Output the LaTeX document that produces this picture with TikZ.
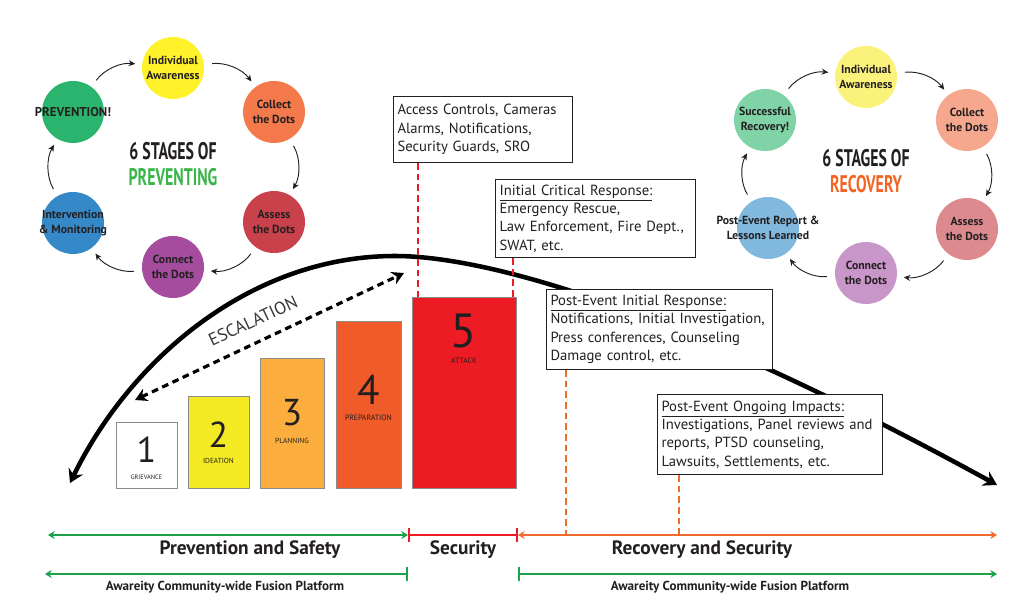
\documentclass[tikz,border=0pt]{standalone}
\usepackage{fontspec}
\setmainfont{PT Sans}
\usetikzlibrary{arrows.meta,calc}
\definecolor{txt}{HTML}{231F20}
\definecolor{lyel}{HTML}{FFF22B}
\definecolor{lora}{HTML}{F4794B}
\definecolor{lred}{HTML}{C8414B}
\definecolor{lpur}{HTML}{A54C9F}
\definecolor{lblu}{HTML}{3589C9}
\definecolor{lgrn}{HTML}{2BB46D}
\definecolor{ryel}{HTML}{FBF27C}
\definecolor{rora}{HTML}{F6A88E}
\definecolor{rred}{HTML}{DD8A8F}
\definecolor{rpur}{HTML}{C996C9}
\definecolor{rblu}{HTML}{80B8DE}
\definecolor{rgrn}{HTML}{7FD3A6}
\definecolor{headgrn}{HTML}{39B54A}
\definecolor{headora}{HTML}{F26522}
\definecolor{stwo}{HTML}{F4EA23}
\definecolor{sthree}{HTML}{FBAE3E}
\definecolor{sfour}{HTML}{F15A29}
\definecolor{sfive}{HTML}{ED1C24}
\definecolor{bargrn}{HTML}{1BA24B}
\definecolor{barred}{HTML}{ED1C24}
\definecolor{barora}{HTML}{F26B2C}
\definecolor{boxgray}{HTML}{8C8C8C}
\tikzset{
  circ/.style={circle, minimum size=46.5pt, inner sep=0pt},
  ctext/.style={inner sep=0pt, align=center,
    font=\fontsize{8.8}{11}\selectfont\bfseries, text=txt},
  cyc/.style={-{Stealth[length=5pt,width=4.5pt]}, line width=0.7pt, txt,
    shorten <=6pt, shorten >=5pt},
  heading/.style={align=center, font=\fontsize{18}{19}\selectfont\bfseries, text=txt},
  stagebox/.style={draw=boxgray, line width=0.8pt, anchor=south west, inner sep=0pt},
  bignum/.style={text=txt, inner sep=0pt},
  smalllab/.style={text=txt, inner sep=0pt, font=\fontsize{5.5}{6}\selectfont},
  infobox/.style={draw=txt, fill=white, line width=0.8pt, anchor=north west,
    align=left, inner xsep=3pt, inner ysep=2pt, text=txt,
    font=\fontsize{11}{13.8}\selectfont},
  bigarrow/.style={line width=3.4pt, {Stealth[length=10pt,width=12pt,inset=3.5pt]}-{Stealth[length=10pt,width=12pt,inset=3.5pt]}},
  escal/.style={line width=2.4pt, dash pattern=on 5pt off 3.5pt,
    {Stealth[length=9pt,width=10pt]}-{Stealth[length=9pt,width=10pt]}},
  reddash/.style={barred, line width=1.6pt, dash pattern=on 5pt off 3pt},
  oradash/.style={barora, line width=1.6pt, dash pattern=on 5pt off 3pt},
  barline/.style={line width=1.8pt},
  barlab/.style={font=\fontsize{14.5}{16}\selectfont\bfseries, text=txt},
  platlab/.style={font=\fontsize{9.8}{11}\selectfont\bfseries, text=txt}
}
\newcommand{\cond}[1]{\scalebox{0.66}[1]{#1}}
\newcommand{\boxline}[1]{\mbox{#1}}
\begin{document}
\begin{tikzpicture}[x=0.75pt,y=-0.75pt]
\useasboundingbox (0,0) rectangle (1024,616);

% ---------- left cycle ----------
\node[circ, fill=lyel] (pI) at (173,68) {};
\node[circ, fill=lora] (pC) at (274,112) {};
\node[circ, fill=lred] (pA) at (274,222) {};
\node[circ, fill=lpur] (pN) at (173,267) {};
\node[circ, fill=lblu] (pM) at (73,223) {};
\node[circ, fill=lgrn] (pP) at (73,112) {};
\node[ctext] (pIt) at (pI) {Individual\\Awareness};
\node[ctext] (pCt) at (pC) {Collect\\the Dots};
\node[ctext] (pAt) at (pA) {Assess\\the Dots};
\node[ctext] (pNt) at (pN) {Connect\\the Dots};
\node[ctext] (pMt) at (pM) {Intervention\\\& Monitoring};
\node[ctext, font=\fontsize{9.6}{11}\selectfont\bfseries] (pPt) at (pP) {PREVENTION!};
\node[heading] (pH) at (173,164) {\cond{6 STAGES OF}\\[1pt]\cond{\color{headgrn}PREVENTING}};
\draw[cyc] (pI) to[bend left=30] (pC);
\draw[cyc] (pC) to[bend left=30] (pA);
\draw[cyc] (pA) to[bend left=30] (pN);
\draw[cyc] (pN) to[bend left=30] (pM);
\draw[cyc] (pM) to[bend left=30] (pP);
\draw[cyc] (pP) to[bend left=30] (pI);

% ---------- right cycle ----------
\node[circ, fill=ryel] (rI) at (866,77) {};
\node[circ, fill=rora] (rC) at (967,120) {};
\node[circ, fill=rred] (rA) at (967,229) {};
\node[circ, fill=rpur] (rN) at (866,273) {};
\node[circ, fill=rblu] (rM) at (768,228) {};
\node[circ, fill=rgrn] (rP) at (765,120) {};
\node[ctext] (rIt) at (rI) {Individual\\Awareness};
\node[ctext] (rCt) at (rC) {Collect\\the Dots};
\node[ctext] (rAt) at (rA) {Assess\\the Dots};
\node[ctext] (rNt) at (rN) {Connect\\the Dots};
\node[ctext] (rMt) at (rM) {Post-Event Report \&\\Lessons Learned};
\node[ctext] (rPt) at (rP) {Successful\\Recovery!};
\node[heading] (rH) at (866,171) {\cond{6 STAGES OF}\\[1pt]\cond{\color{headora}RECOVERY}};
\draw[cyc] (rI) to[bend left=30] (rC);
\draw[cyc] (rC) to[bend left=30] (rA);
\draw[cyc] (rA) to[bend left=30] (rN);
\draw[cyc] (rN) to[bend left=30] (rM);
\draw[cyc] (rM) to[bend left=30] (rP);
\draw[cyc] (rP) to[bend left=30] (rI);

% ---------- big arc ----------
\coordinate (lTip) at (70,483);
\coordinate (peak) at (395,256);
\coordinate (rTip) at (997,485);
\draw[bigarrow] (lTip) .. controls (130,360) and (250,256) .. (peak)
  .. controls (470,256) and (645,292) .. (rTip);

% ---------- stage boxes ----------
\node[stagebox, fill=white, minimum width=45.75pt, minimum height=49.5pt] (s1) at (116,489) {};
\node[stagebox, fill=stwo, minimum width=45.75pt, minimum height=69pt] (s2) at (188,489) {};
\node[stagebox, fill=sthree, minimum width=48pt, minimum height=97.5pt] (s3) at (260,489) {};
\node[stagebox, fill=sfour, minimum width=48.75pt, minimum height=125.25pt] (s4) at (336,489) {};
\node[stagebox, fill=sfive, minimum width=78pt, minimum height=143.25pt] (s5) at (412,489) {};
\node[bignum, font=\fontsize{27}{27}\selectfont] (n1) at (146.5,450) {1};
\node[smalllab, font=\fontsize{4.8}{5}\selectfont] (l1) at (146.5,477) {GRIEVANCE};
\node[bignum, font=\fontsize{27}{27}\selectfont] (n2) at (218.5,435) {2};
\node[smalllab] (l2) at (218.5,461) {IDEATION};
\node[bignum, font=\fontsize{28}{28}\selectfont] (n3) at (292,413) {3};
\node[smalllab] (l3) at (292,441) {PLANNING};
\node[bignum, font=\fontsize{31}{31}\selectfont] (n4) at (368.5,390) {4};
\node[smalllab, font=\fontsize{5.8}{6}\selectfont] (l4) at (368.5,418) {PREPARATION};
\node[bignum, font=\fontsize{36}{36}\selectfont] (n5) at (464,331) {5};
\node[smalllab, font=\fontsize{5.8}{6}\selectfont] (l5) at (464,361) {ATTACK};

% ---------- escalation ----------
\coordinate (eA) at (135,400);
\coordinate (eB) at (404,273);
\draw[escal] (eA) -- (eB);
\node[rotate=25, font=\fontsize{13.2}{14}\selectfont, text=txt!90] (esc) at (253,321) {ESCALATION};

% ---------- info boxes ----------
\node[infobox, text width=128pt, minimum height=49.5pt] (acc) at (393,96)
  {\boxline{Access Controls, Cameras}\\\boxline{Alarms, Notifications,}\\\boxline{Security Guards, SRO}};
\node[infobox, text width=144pt, minimum height=58.5pt] (icr) at (495,179)
  {\boxline{\underline{Initial Critical Response:}}\\\boxline{Emergency Rescue,}\\\boxline{Law Enforcement, Fire Dept.,}\\\boxline{SWAT, etc.}};
\node[infobox, text width=163.25pt, minimum height=60pt] (pir) at (546,289)
  {\boxline{\underline{Post-Event Initial Response:}}\\\boxline{Notifications, Initial Investigation,}\\\boxline{Press conferences, Counseling}\\\boxline{Damage control, etc.}};
\node[infobox, text width=162.5pt, minimum height=60pt] (poi) at (657,394)
  {\boxline{\underline{Post-Event Ongoing Impacts:}}\\\boxline{Investigations, Panel reviews and}\\\boxline{reports, PTSD counseling,}\\\boxline{Lawsuits, Settlements, etc.}};

% ---------- bottom bars ----------
\coordinate (gL) at (48,535);
\coordinate (gR) at (408,535);
\coordinate (rR) at (518,535);
\coordinate (oR) at (997,535);
\coordinate (g2L) at (45,574);
\coordinate (g2R) at (408,574);
\coordinate (g3L) at (518,574);
\coordinate (g3R) at (997,574);

% dashed connectors
\draw[reddash] (acc.south -| 418,0) -- (s5.north -| 418,0);
\draw[reddash] (icr.south -| 513,0) -- (s5.north -| 513,0);
\draw[oradash] (pir.south -| 566,0) -- (gL -| 566,0);
\draw[oradash] (poi.south -| 679,0) -- (gL -| 679,0);

\draw[barline, bargrn, {Stealth[length=5pt,width=6pt]}-{Stealth[length=5pt,width=6pt]}] (gL) -- (gR);
\draw[barline, barred, {Bar[width=10pt]}-{Bar[width=10pt]}] (gR) -- (rR);
\draw[barline, barora, {Stealth[length=5pt,width=6pt]}-{Stealth[length=5pt,width=6pt]}] (rR) -- (oR);
\draw[barline, bargrn, {Stealth[length=5pt,width=6pt]}-{Bar[width=10pt]}] (g2L) -- (g2R);
\draw[barline, bargrn, {Bar[width=10pt]}-{Stealth[length=5pt,width=6pt]}] (g3L) -- (g3R);

\node[barlab] (tPS) at (250,550) {Prevention and Safety};
\node[barlab] (tS) at (463,550) {Security};
\node[barlab] (tRS) at (702,550) {Recovery and Security};
\node[platlab] (tP1) at (225,587) {Awareity Community-wide Fusion Platform};
\node[platlab] (tP2) at (730,587) {Awareity Community-wide Fusion Platform};
\end{tikzpicture}
\end{document}
